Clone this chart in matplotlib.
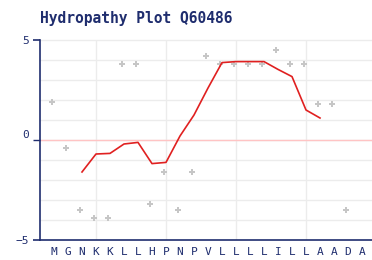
import matplotlib.pyplot as plt
import matplotlib.transforms as mtransforms
import numpy as np

residues = list("MGNKKLLHPNPVLLLLILLAADA")
# Kyte-Doolittle values drawn as grey points (last residue has none)
kd_values = [1.9, -0.4, -3.5, -3.9, -3.9, 3.8, 3.8, -3.2, -1.6, -3.5, -1.6,
             4.2, 3.8, 3.8, 3.8, 3.8, 4.5, 3.8, 3.8, 1.8, 1.8, -3.5]
# smoothed profile, residues 3..20
line_pos = list(range(3, 21))
line_values = [-1.6, -0.7, -0.67, -0.2, -0.12, -1.18, -1.12, 0.2, 1.25, 2.6,
               3.87, 3.92, 3.92, 3.92, 3.53, 3.17, 1.5, 1.1]

navy = '#1f2d6e'

fig = plt.figure(figsize=(3.72, 2.60), dpi=100)
ax = fig.add_axes([40/372, 20/260, 332/372, 200/260])

for y in range(-4, 6):
    ax.axhline(y, color='#ececec', lw=1, zorder=0, clip_on=False)
for x in [4, 9, 14, 19]:
    ax.axvline(x, color='#ececec', lw=1, zorder=0)
ax.axhline(0, color='#ffc4c4', lw=1, zorder=1)

pts_x = np.arange(1, len(kd_values) + 1) - 0.13
ax.plot(pts_x, kd_values, linestyle='none', marker='P', markersize=4,
        color='#c6c6c6', markeredgewidth=0, zorder=2)
ax.plot(line_pos, line_values, color='#e02020', lw=1.2, zorder=3)

ax.set_xlim(0, 332/14)
ax.set_ylim(-5, 5)
ax.set_xticks(range(1, len(residues) + 1))
ax.set_xticklabels(residues, family='DejaVu Sans Mono', fontsize=8, color=navy)
ax.tick_params(axis='x', length=0, pad=5)
ax.set_yticks([-5, 0, 5])
ax.set_yticklabels(['\u22125', '0', '5'], family='DejaVu Sans Mono',
                   fontsize=8, color=navy)
ax.tick_params(axis='y', length=5, color=navy, width=1.2, pad=3)
ax.yaxis.get_major_ticks()[1].tick1line.set_color('#ffc4c4')
ax.yaxis.get_major_ticks()[1].tick1line.set_markeredgewidth(1)
lab0 = ax.get_yticklabels()[1]
lab0.set_transform(lab0.get_transform() + mtransforms.ScaledTranslation(0, 6/100, fig.dpi_scale_trans))

for s in ['top', 'right']:
    ax.spines[s].set_visible(False)
for s in ['left', 'bottom']:
    ax.spines[s].set_color(navy)
    ax.spines[s].set_linewidth(1.2)

fig.text(40/372, 1 - 19/260, 'Hydropathy Plot Q60486', family='DejaVu Sans Mono',
         fontweight='bold', fontsize=10.5, color=navy, va='center', ha='left')

fig.savefig('out.png', dpi=100)
